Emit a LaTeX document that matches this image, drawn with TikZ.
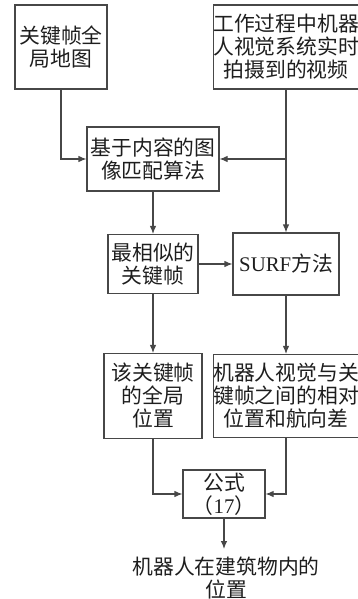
\documentclass[tikz,border=0pt]{standalone}
\usepackage{fontspec}
\setmainfont{Liberation Serif}
\newfontfamily\cjk{Noto Sans CJK SC}
\usetikzlibrary{arrows.meta}
\definecolor{linec}{HTML}{474747}
\definecolor{textc}{HTML}{1e1e1e}
\begin{document}
\begin{tikzpicture}[x=1pt,y=-1pt,
  box/.style={draw=linec,line width=1.1pt,inner sep=0pt,align=center,text=textc,
    font=\fontsize{20.8}{23}\selectfont\cjk},
  conn/.style={draw=linec,line width=1.1pt},
  arr/.style={conn,-{Latex[length=8pt,width=6.5pt]}}]
\useasboundingbox (0,0) rectangle (358,599);
\node[box,minimum width=92pt,minimum height=84pt] (A) at (61,47) {关键帧全\\局地图};
\node[box,minimum width=144pt,minimum height=84pt] (B) at (286,47) {工作过程中机器\\人视觉系统实时\\拍摄到的视频};
\node[box,minimum width=132pt,minimum height=64pt] (C) at (153,159) {基于内容的图\\像匹配算法};
\node[box,minimum width=90pt,minimum height=59pt] (D) at (153,264) {最相似的\\关键帧};
\node[box,minimum width=106pt,minimum height=62pt] (E) at (286,264) {{\rmfamily SURF}方法};
\node[box,minimum width=98pt,minimum height=85pt] (F) at (153,396) {该关键帧\\的全局\\位置};
\node[box,minimum width=134pt,minimum height=83pt] (G) at (286,396) {机器人视觉与关\\键帧之间的相对\\位置和航向差};
\node[box,minimum width=82pt,minimum height=48pt] (H) at (224,494) {公式\\（{\rmfamily 17}）};
\node[box,draw=none] (O) at (226,578) {机器人在建筑物内的\\位置};
\coordinate (Bj) at (B.south |- C.east);
\draw[arr] (A.south) |- (C.west);
\draw[arr] (B.south) -- (E.north);
\draw[arr] (Bj) -- (C.east);
\draw[arr] (C.south) -- (D.north);
\draw[arr] (D.east) -- (E.west);
\draw[arr] (D.south) -- (F.north);
\draw[arr] (E.south) -- (G.north);
\draw[arr] (F.south) |- (H.west);
\draw[arr] (G.south) |- (H.east);
\draw[arr] (H.south) -- (H.south |- 0,549);
\end{tikzpicture}
\end{document}
